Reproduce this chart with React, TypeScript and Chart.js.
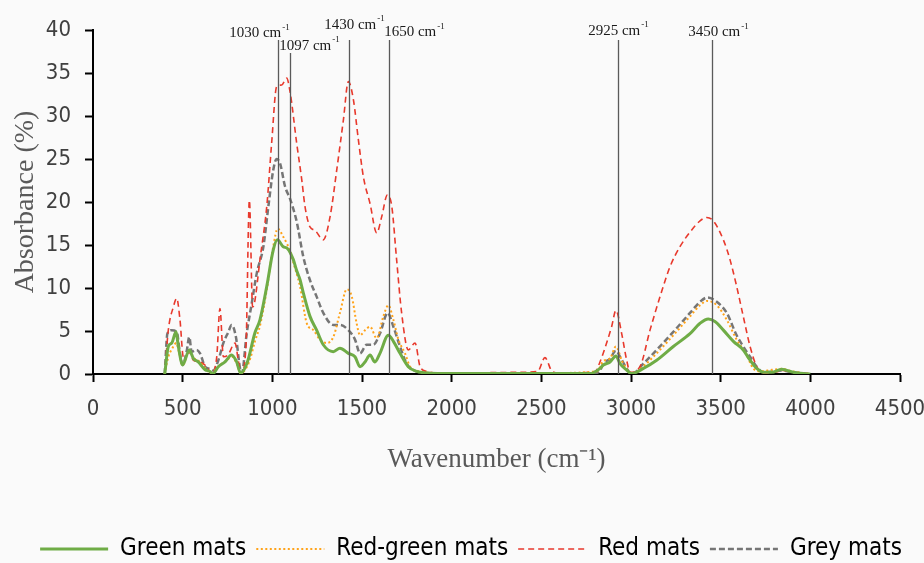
import React, { useEffect, useRef } from "react";
import { Chart, registerables } from "chart.js";

Chart.register(...registerables);

// ---------- axis settings ----------
const xMin = 0;
const xMax = 4500;
const xStep = 500;
const yMin = 0;
const yMax = 40;
const yStep = 5;

// ---------- series (wavenumber cm-1, absorbance %) ----------
const greenWn = [400, 420, 439, 463, 476, 500, 537, 560, 587, 625, 652, 667, 699, 736, 773, 801, 823, 861, 903, 931, 969, 1005, 1028, 1061, 1084, 1117, 1136, 1154, 1173, 1210, 1247, 1284, 1340, 1377, 1424, 1461, 1489, 1517, 1545, 1572, 1600, 1647, 1675, 1712, 1758, 1805, 1880, 2100, 2500, 2771, 2827, 2846, 2883, 2916, 2939, 2976, 3004, 3069, 3143, 3236, 3329, 3385, 3431, 3468, 3515, 3571, 3626, 3664, 3701, 3738, 3785, 3840, 3905, 3961, 4000];
const greenAbs = [0, 3.2, 3.6, 4.9, 3.2, 1.05, 2.8, 1.8, 1.4, 0.5, 0.3, 0, 0.85, 1.4, 2.2, 1.4, 0.1, 1.4, 4.8, 6.3, 10.2, 14.4, 15.6, 14.8, 14.6, 13.3, 12.0, 11.0, 9.4, 6.7, 5.1, 3.4, 2.6, 3.0, 2.4, 2.0, 0.85, 1.4, 2.2, 1.4, 2.4, 4.5, 3.8, 2.4, 0.85, 0.3, 0.1, 0.05, 0.05, 0.05, 0.65, 1.05, 1.4, 2.1, 1.2, 0.45, 0.05, 0.65, 1.6, 3.2, 4.7, 5.9, 6.4, 6.1, 5.1, 3.8, 2.8, 1.6, 0.65, 0.2, 0.2, 0.55, 0.2, 0.05, 0];

const redGreenWn = [400, 420, 440, 465, 480, 500, 535, 560, 590, 625, 660, 700, 740, 775, 800, 823, 860, 880, 903, 931, 969, 1005, 1030, 1060, 1085, 1099, 1117, 1154, 1192, 1229, 1266, 1303, 1340, 1377, 1415, 1443, 1470, 1489, 1517, 1545, 1582, 1619, 1647, 1675, 1703, 1740, 1768, 1824, 1900, 2500, 2810, 2846, 2883, 2916, 2950, 2990, 3010, 3069, 3143, 3236, 3329, 3385, 3426, 3478, 3534, 3589, 3640, 3682, 3720, 3760, 3840, 3900, 4000];
const redGreenAbs = [0, 2.0, 2.9, 3.6, 2.5, 1.0, 2.6, 1.9, 1.5, 0.7, 0.1, 0.9, 1.5, 2.0, 1.3, 0.1, 0.9, 2.0, 3.8, 5.6, 9.8, 14.8, 16.9, 16.0, 15.0, 14.4, 13.0, 10.2, 5.9, 5.1, 4.0, 3.6, 4.3, 7.1, 9.85, 9.0, 5.9, 4.5, 5.1, 5.5, 4.15, 6.7, 8.0, 6.3, 4.0, 2.4, 0.85, 0.3, 0.1, 0.1, 0.3, 1.5, 1.8, 3.2, 1.5, 0.2, 0, 0.9, 2.4, 4.5, 6.7, 8.0, 8.5, 8.0, 6.3, 4.0, 2.4, 0.65, 0.3, 0.4, 0.6, 0.3, 0];

const redWn = [400, 420, 448, 467, 485, 504, 537, 560, 597, 634, 662, 690, 708, 727, 752, 792, 810, 825, 853, 872, 890, 900, 931, 969, 996, 1024, 1052, 1080, 1099, 1136, 1164, 1182, 1210, 1238, 1284, 1322, 1359, 1396, 1424, 1452, 1480, 1508, 1545, 1582, 1610, 1641, 1666, 1693, 1721, 1758, 1796, 1824, 1861, 1950, 2400, 2480, 2520, 2560, 2600, 2800, 2827, 2864, 2892, 2916, 2948, 2976, 2995, 3050, 3106, 3162, 3218, 3273, 3329, 3385, 3422, 3459, 3515, 3552, 3589, 3626, 3664, 3701, 3738, 3800, 3850, 3900, 4000];
const redAbs = [0, 5.1, 7.8, 8.8, 6.3, 2.0, 2.5, 1.6, 1.4, 0.85, 0, 2.0, 7.6, 2.0, 2.2, 3.6, 1.6, 0, 3.2, 20.2, 7.8, 8.2, 13.3, 19.5, 26.8, 33.4, 33.6, 34.4, 32.8, 26.8, 22.6, 19.5, 17.1, 16.7, 15.6, 18.3, 23.7, 29.5, 34.0, 31.9, 27.2, 22.9, 19.8, 16.4, 18.3, 20.8, 19.5, 13.3, 7.1, 2.8, 3.6, 0.85, 0.3, 0.1, 0.2, 0.3, 1.9, 0.3, 0.1, 0.3, 1.4, 3.6, 5.5, 7.4, 4.7, 1.6, 0.2, 0.85, 5.1, 9.0, 12.5, 14.8, 16.5, 17.8, 18.2, 17.8, 15.6, 13.3, 10.2, 6.7, 3.2, 0.85, 0.1, 0.2, 0.4, 0.2, 0];

const greyWn = [400, 415, 439, 467, 485, 500, 522, 537, 550, 578, 597, 625, 652, 671, 699, 727, 755, 773, 797, 820, 830, 857, 885, 913, 950, 978, 1005, 1024, 1043, 1071, 1100, 1136, 1173, 1210, 1247, 1284, 1340, 1377, 1424, 1461, 1489, 1526, 1563, 1600, 1643, 1675, 1712, 1749, 1805, 1900, 2500, 2800, 2827, 2846, 2883, 2916, 2939, 2976, 3004, 3069, 3143, 3236, 3329, 3385, 3426, 3478, 3534, 3589, 3626, 3664, 3701, 3738, 3840, 3900, 4000];
const greyAbs = [0, 4.7, 5.1, 4.9, 2.4, 1.05, 2.6, 4.3, 2.6, 2.8, 2.4, 0.85, 0.6, 0.4, 1.6, 3.6, 4.9, 5.7, 4.3, 0.65, 0.1, 4.7, 8.2, 11.7, 14.8, 19.5, 23.7, 25.0, 24.5, 21.8, 20.3, 17.7, 13.6, 10.9, 9.0, 7.1, 5.7, 5.7, 5.1, 4.0, 2.4, 3.4, 3.4, 4.7, 7.1, 5.5, 3.2, 1.2, 0.3, 0.1, 0.1, 0.1, 0.4, 1.2, 1.8, 2.7, 2.0, 0.65, 0, 1.2, 2.8, 4.9, 7.1, 8.4, 8.9, 8.4, 7.1, 4.5, 3.2, 2.0, 0.85, 0.2, 0.4, 0.2, 0];

const seriesNames = ["Green mats", "Red-green mats", "Red mats", "Grey mats"];

// ---------- band markers ----------
const markerWn = [1030, 1097, 1430, 1650, 2925, 3450];
const markerText = ["1030", "1097", "1430", "1650", "2925", "3450"];
// label placement relative to the marker line / plot top (pixels)
const markerLayout = [
  { dx: -19, dy: 3.5, lineTop: 10 },
  { dx: 19, dy: 16, lineTop: 23 },
  { dx: 5, dy: -5, lineTop: 10 },
  { dx: 25, dy: 2.5, lineTop: 10 },
  { dx: 0, dy: 1, lineTop: 10 },
  { dx: 6, dy: 2.5, lineTop: 10 },
];

const SANS = "'DejaVu Sans Condensed', 'DejaVu Sans', sans-serif";
const SERIF = "'Liberation Serif', 'Times New Roman', serif";
const LEGEND_DX = 21;
const LEGEND_DY = 8;

function toPoints(xs: number[], ys: number[]) {
  return xs.map((x, i) => ({ x, y: ys[i] }));
}

export default function App() {
  const ref = useRef<HTMLCanvasElement>(null);

  useEffect(() => {
    const canvas = ref.current;
    if (!canvas) return;

    const markerPlugin = {
      id: "bandMarkers",
      afterDatasetsDraw(chart: any) {
        const { ctx, chartArea, scales } = chart;
        const xs = scales.x;
        const ys = scales.y;
        ctx.save();
        markerWn.forEach((wn, i) => {
          const m = markerLayout[i];
          const px = Math.round(xs.getPixelForValue(wn)) + 0.5;
          ctx.strokeStyle = "#5a5a5a";
          ctx.lineWidth = 1.3;
          ctx.setLineDash([]);
          ctx.beginPath();
          ctx.moveTo(px, chartArea.top + m.lineTop);
          ctx.lineTo(px, ys.getPixelForValue(0));
          ctx.stroke();

          const main = markerText[i] + " cm";
          const sup = "-1";
          ctx.font = "15px " + SERIF;
          const w1 = ctx.measureText(main).width;
          ctx.font = "9px " + SERIF;
          const w2 = ctx.measureText(sup).width;
          const total = w1 + 1 + w2;
          const left = px + m.dx - total / 2;
          const cy = chartArea.top + m.dy;
          ctx.fillStyle = "#1a1a1a";
          ctx.textAlign = "left";
          ctx.textBaseline = "middle";
          ctx.font = "15px " + SERIF;
          ctx.fillText(main, left, cy);
          ctx.font = "9px " + SERIF;
          ctx.fillText(sup, left + w1 + 1, cy - 6);
        });
        ctx.restore();
      },
    };

    const legendShift = {
      id: "legendShift",
      afterLayout(chart: any) {
        const lg = chart.legend;
        if (lg) {
          lg.top += LEGEND_DY;
          lg.bottom += LEGEND_DY;
          lg.left += LEGEND_DX;
          lg.right += LEGEND_DX;
        }
      },
    };

    const chart = new Chart(canvas, {
      type: "line",
      data: {
        datasets: [
          {
            label: seriesNames[0],
            data: toPoints(greenWn, greenAbs),
            borderColor: "#6fac46",
            backgroundColor: "#6fac46",
            borderWidth: 3,
            pointRadius: 0,
            cubicInterpolationMode: "monotone",
          },
          {
            label: seriesNames[1],
            data: toPoints(redGreenWn, redGreenAbs),
            borderColor: "#ffa31a",
            backgroundColor: "#ffa31a",
            borderWidth: 2,
            borderDash: [2, 2.5],
            pointRadius: 0,
            cubicInterpolationMode: "monotone",
          },
          {
            label: seriesNames[2],
            data: toPoints(redWn, redAbs),
            borderColor: "#e8392c",
            backgroundColor: "#e8392c",
            borderWidth: 1.6,
            borderDash: [6, 4],
            pointRadius: 0,
            cubicInterpolationMode: "monotone",
          },
          {
            label: seriesNames[3],
            data: toPoints(greyWn, greyAbs),
            borderColor: "#767676",
            backgroundColor: "#767676",
            borderWidth: 2.5,
            borderDash: [6, 3],
            pointRadius: 0,
            cubicInterpolationMode: "monotone",
          },
        ],
      },
      options: {
        animation: false,
        responsive: false,
        devicePixelRatio: 1,
        layout: { padding: { left: 0, right: 24, top: 30, bottom: 0 } },
        plugins: {
          tooltip: { enabled: false },
          legend: {
            position: "bottom",
            labels: {
              usePointStyle: true,
              pointStyle: "line",
              pointStyleWidth: 68,
              padding: 10,
              color: "#000000",
              font: { family: SANS, size: 24 },
              generateLabels: (c: any) =>
                c.data.datasets.map((ds: any, i: number) => ({
                  text: ds.label,
                  fillStyle: ds.borderColor,
                  strokeStyle: ds.borderColor,
                  lineWidth: ds.borderWidth,
                  lineDash: ds.borderDash || [],
                  lineCap: "butt",
                  pointStyle: "line",
                  fontColor: "#000000",
                  hidden: false,
                  datasetIndex: i,
                })),
            },
          },
        },
        scales: {
          x: {
            type: "linear",
            min: xMin,
            max: xMax,
            ticks: {
              stepSize: xStep,
              color: "#404040",
              font: { family: SANS, size: 22 },
              padding: 14,
              maxRotation: 0,
              autoSkip: false,
              callback: (v: any) => String(v),
            },
            grid: {
              drawOnChartArea: false,
              drawTicks: true,
              tickLength: 8,
              tickWidth: 2,
              tickColor: "#000000",
            },
            border: { display: true, color: "#000000", width: 2 },
            title: {
              display: true,
              text: "Wavenumber (cm⁻¹)",
              color: "#595959",
              font: { family: SERIF, size: 27 },
              padding: { top: 0, bottom: 43 },
            },
            afterFit: (s: any) => {
              s.height = 145;
              s.paddingLeft = 0;
              s.paddingRight = 0;
            },
          },
          y: {
            type: "linear",
            min: yMin,
            max: yMax,
            ticks: {
              stepSize: yStep,
              color: "#404040",
              font: { family: SANS, size: 22 },
              padding: 14,
              callback: (v: any) => String(v),
            },
            grid: {
              drawOnChartArea: false,
              drawTicks: true,
              tickLength: 8,
              tickWidth: 2,
              tickColor: "#000000",
            },
            border: { display: true, color: "#000000", width: 2 },
            title: {
              display: true,
              text: "Absorbance (%)",
              color: "#595959",
              font: { family: SERIF, size: 28 },
              padding: { top: 9, bottom: 0 },
            },
            afterFit: (s: any) => {
              s.width = 93;
              s.paddingTop = 0;
              s.paddingBottom = 0;
            },
          },
        },
      },
      plugins: [markerPlugin, legendShift],
    } as any);

    return () => chart.destroy();
  }, []);

  return (
    <div
      style={{
        position: "fixed",
        left: 0,
        top: 0,
        width: 924,
        height: 563,
        background: "#fafafa",
      }}
    >
      <canvas ref={ref} width={924} height={563} style={{ display: "block" }} />
    </div>
  );
}
